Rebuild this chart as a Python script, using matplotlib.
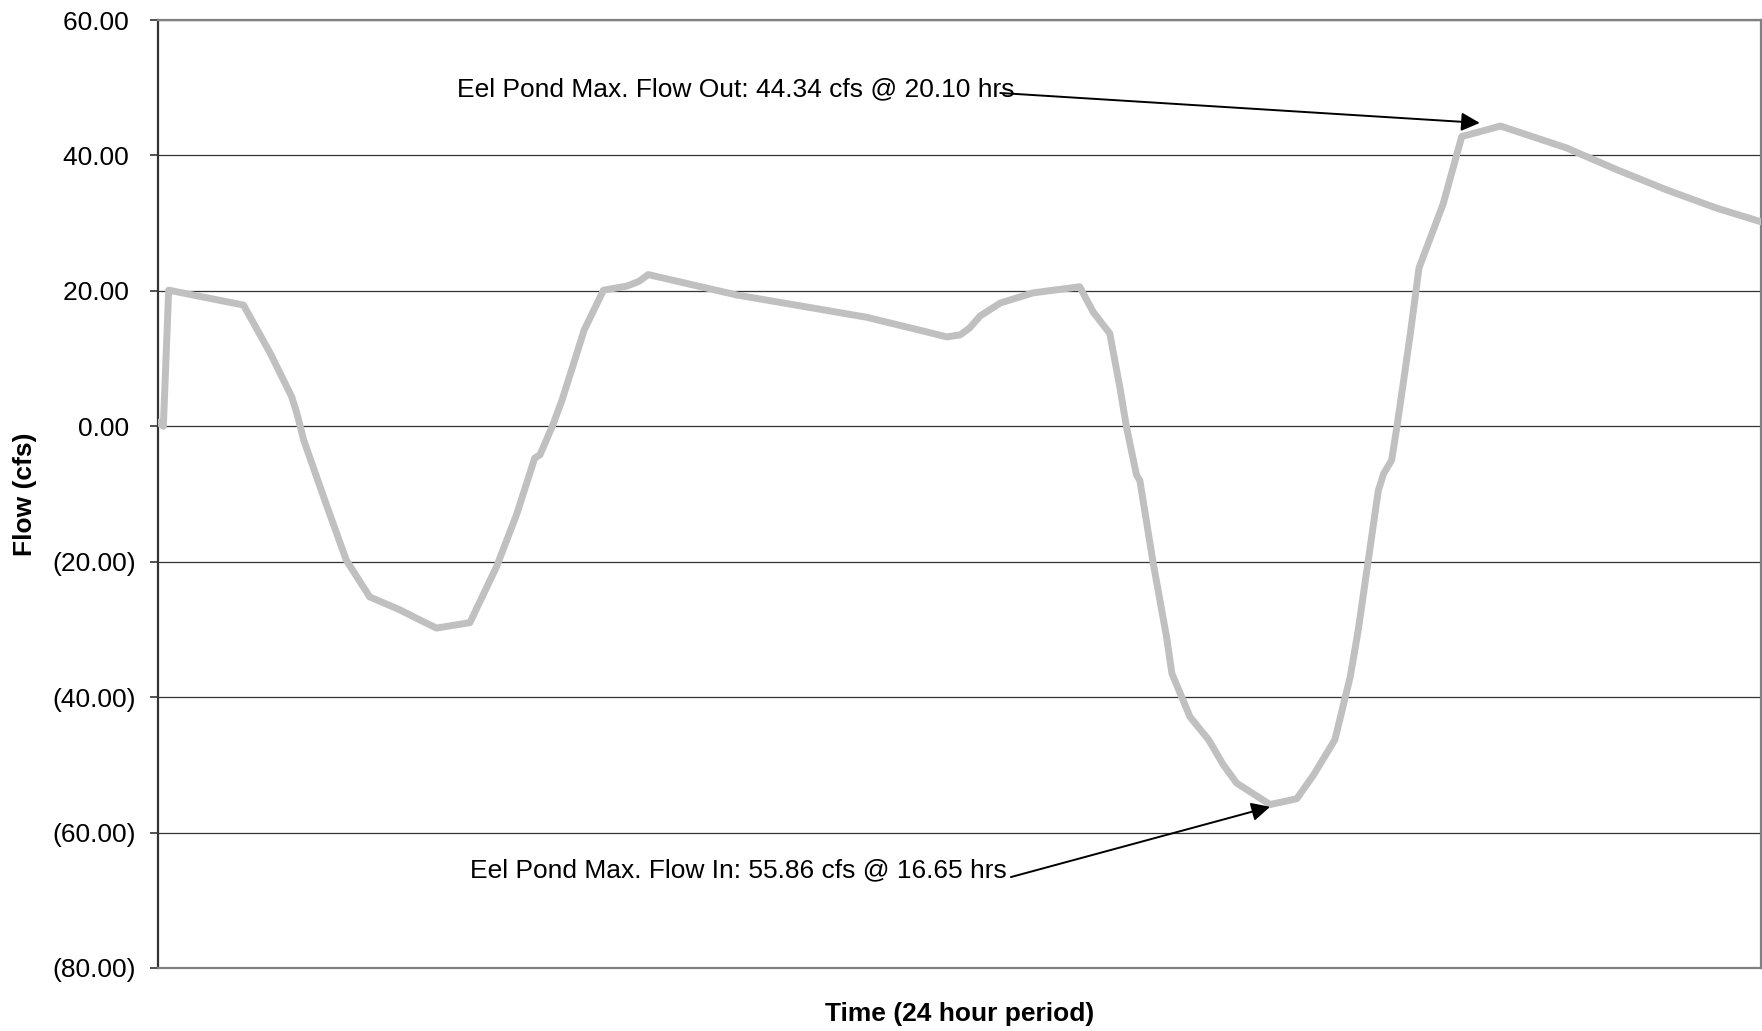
import matplotlib
matplotlib.use("Agg")
import matplotlib.pyplot as plt
from matplotlib.ticker import FuncFormatter

plt.rcParams['font.family'] = ['Liberation Sans', 'DejaVu Sans']

# Time in hours (24 hour period) and flow (cfs)
hours = [0.00, 0.08, 0.16, 1.28, 1.68, 2.00, 2.08, 2.18, 2.50, 2.82, 3.17, 3.62, 3.90,
         4.17, 4.67, 5.07, 5.37, 5.64, 5.72, 5.92, 6.05, 6.24, 6.38, 6.67, 7.02, 7.20,
         7.34, 8.66, 10.61, 11.40, 11.81, 12.01, 12.15, 12.31, 12.61, 13.10, 13.80,
         14.00, 14.25, 14.40, 14.50, 14.65, 14.70, 14.90, 15.10, 15.18, 15.45, 15.73,
         15.95, 16.15, 16.65, 17.05, 17.30, 17.62, 17.85, 17.97, 18.12, 18.27, 18.35,
         18.47, 18.55, 18.65, 18.75, 18.88, 19.24, 19.52, 19.75, 20.10, 21.09, 21.84,
         22.59, 23.34, 24.00]
flow = [0.6, 0.0, 20.1, 17.9, 10.8, 4.4, 1.9, -2.0, -11.0, -19.8, -25.2, -27.1, -28.5,
        -29.8, -29.0, -20.7, -13.0, -4.7, -4.2, 0.4, 3.9, 9.8, 14.2, 20.1, 20.7, 21.4,
        22.4, 19.4, 16.1, 14.2, 13.2, 13.5, 14.5, 16.3, 18.2, 19.7, 20.6,
        16.9, 13.7, 5.8, -0.1, -7.2, -8.0, -20.2, -31.1, -36.5, -42.9, -46.3,
        -50.0, -52.7, -55.86, -55.0, -51.5, -46.3, -37.0, -30.1, -19.8, -9.5, -7.0,
        -5.0, 0.0, 6.8, 13.7, 23.4, 32.8, 42.8, 43.4, 44.34, 41.1, 37.9,
        34.9, 32.2, 30.2]

y_ticks = [60, 40, 20, 0, -20, -40, -60, -80]
out_text = "Eel Pond Max. Flow Out: 44.34 cfs @ 20.10 hrs"
in_text = "Eel Pond Max. Flow In: 55.86 cfs @ 16.65 hrs"
out_peak = (19.79, 44.8)
in_peak = (16.65, -56.2)

W, H = 1762, 1031
fig = plt.figure(figsize=(W / 100, H / 100), dpi=100)
ax = fig.add_axes([158 / W, 1 - 968 / H, (1761 - 158) / W, (968 - 20) / H])

ax.plot(hours, flow, color='#C0C0C0', lw=5.0, solid_joinstyle='round',
        solid_capstyle='round', zorder=3)

ax.set_xlim(0, 24)
ax.set_ylim(-80, 60)
ax.set_yticks(y_ticks)
ax.yaxis.set_major_formatter(FuncFormatter(
    lambda v, p: f"{v:.2f} " if v >= 0 else f"({-v:.2f})"))
ax.set_xticks([])
ax.tick_params(axis='y', direction='out', length=5.8, width=1.2, color='#333333',
               labelsize=19, pad=10)
ax.grid(axis='y', color='#333333', lw=0.9, zorder=1)
ax.set_axisbelow(True)

for s in ['top', 'bottom', 'right']:
    ax.spines[s].set_color('#808080')
    ax.spines[s].set_linewidth(1.6)
ax.spines['left'].set_color('#333333')
ax.spines['left'].set_linewidth(1.6)

ax.text(4.48, 49.8, out_text, fontsize=19, ha='left', va='center', zorder=4)
ax.annotate('', xy=out_peak, xytext=(12.61, 49.22),
            arrowprops=dict(arrowstyle='-|>', mutation_scale=28, lw=1.4,
                            color='black', shrinkA=0, shrinkB=0), zorder=5)
ax.text(4.67, -65.5, in_text, fontsize=19, ha='left', va='center', zorder=4)
ax.annotate('', xy=in_peak, xytext=(12.77, -66.57),
            arrowprops=dict(arrowstyle='-|>', mutation_scale=28, lw=1.4,
                            color='black', shrinkA=0, shrinkB=0), zorder=5)

fig.text(25 / W, 1 - 494 / H, "Flow (cfs)", rotation=90, ha='center', va='center',
         fontsize=19, fontweight='bold')
fig.text(960 / W, 1 - 1014 / H, "Time (24 hour period)", ha='center', va='center',
         fontsize=19, fontweight='bold')

fig.savefig("out.png", dpi=100)
